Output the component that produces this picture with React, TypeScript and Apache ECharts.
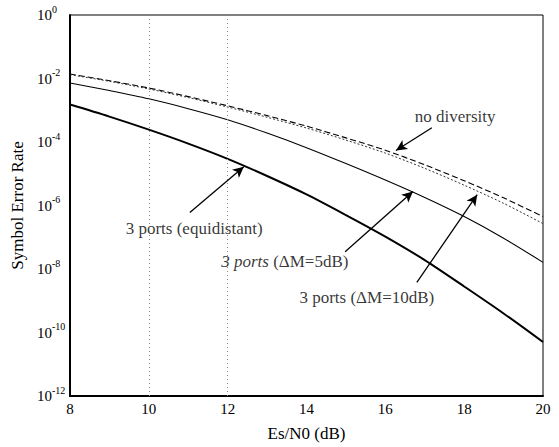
import React, { useEffect, useRef } from "react";
import * as echarts from "echarts";

// Es/N0 in dB
const esN0 = [8, 9, 10, 11, 12, 13, 14, 15, 16, 17, 18, 19, 20];

// Symbol error rate
const noDiversity = [1.38e-2, 8.51e-3, 5.01e-3, 2.69e-3, 1.38e-3, 6.76e-4, 3.16e-4, 1.35e-4, 5.5e-5, 1.91e-5, 6.03e-6, 1.74e-6, 4.47e-7];
const ports10dB = [1.32e-2, 8.13e-3, 4.68e-3, 2.51e-3, 1.26e-3, 6.03e-4, 2.75e-4, 1.15e-4, 4.47e-5, 1.48e-5, 4.37e-6, 1.17e-6, 2.69e-7];
const ports5dB = [7.24e-3, 4.17e-3, 2.29e-3, 1.12e-3, 5.01e-4, 1.91e-4, 6.61e-5, 2.09e-5, 6.31e-6, 1.78e-6, 4.47e-7, 9.33e-8, 1.62e-8];
const portsEquidistant = [1.51e-3, 6.31e-4, 2.45e-4, 8.91e-5, 2.95e-5, 8.51e-6, 2.24e-6, 5.01e-7, 1.05e-7, 1.91e-8, 2.82e-9, 3.98e-10, 5.01e-11];

// partial grid lines in the reference
const gridX = [10, 12];
const gridY = [1e-10];

// annotations: label text, label position, arrow start and arrow tip (data coordinates)
const annLabels = [
  "no diversity",
  "3 ports (equidistant)",
  "{i|3 ports} (ΔM=5dB)",
  "3 ports (ΔM=10dB)",
];
const annTextAt: [number, number][] = [
  [17.77, 6.3e-4],
  [11.15, 1.9e-7],
  [13.45, 1.74e-8],
  [15.53, 1.29e-9],
];
const annFrom: [number, number][] = [
  [17.18, 2.8e-4],
  [11.04, 6.0e-7],
  [14.98, 3.5e-8],
  [16.8, 3.8e-9],
];
const annTo: [number, number][] = [
  [16.27, 5.4e-5],
  [12.41, 1.66e-5],
  [16.7, 2.75e-6],
  [18.33, 2.2e-6],
];

const FONT = "Liberation Serif";

export default function App() {
  const ref = useRef<HTMLDivElement>(null);

  useEffect(() => {
    if (!ref.current) return;
    document.body.style.margin = "0";
    const chart = echarts.init(ref.current, undefined, { renderer: "svg" });

    const lineSeries = (name: string, data: number[], width: number, type: any, color: string) => ({
      name,
      type: "line",
      data: esN0.map((x, i) => [x, data[i]]),
      smooth: 0.3,
      showSymbol: false,
      symbol: "none",
      lineStyle: { color, width, type },
      silent: true,
    });

    const option: any = {
      animation: false,
      backgroundColor: "#fff",
      textStyle: { fontFamily: FONT },
      grid: {
        left: 70,
        right: 16,
        top: 15,
        bottom: 50,
        show: true,
        borderColor: "#000",
        borderWidth: 1,
        backgroundColor: "transparent",
      },
      xAxis: {
        type: "value",
        min: 8,
        max: 20,
        interval: 2,
        name: "Es/N0 (dB)",
        nameLocation: "middle",
        nameGap: 29,
        nameTextStyle: { fontFamily: FONT, fontSize: 17, color: "#000" },
        axisLine: { show: true, lineStyle: { color: "#000", width: 2 } },
        axisTick: { show: false },
        splitLine: { show: false },
        axisLabel: { fontFamily: FONT, fontSize: 15, color: "#000", margin: 5 },
      },
      yAxis: {
        type: "log",
        logBase: 10,
        min: 1e-12,
        max: 1,
        interval: 2,
        name: "Symbol Error Rate",
        nameLocation: "middle",
        nameGap: 44,
        nameTextStyle: { fontFamily: FONT, fontSize: 17, color: "#000" },
        axisLine: { show: true, lineStyle: { color: "#000", width: 2 } },
        axisTick: { show: false },
        splitLine: { show: false },
        axisLabel: {
          align: "left",
          margin: 33,
          formatter: (v: number) => {
            const e = Math.round(Math.log10(v));
            return `{b|10}{s|${e}}`;
          },
          rich: {
            b: { fontFamily: FONT, fontSize: 15, color: "#000" },
            s: { fontFamily: FONT, fontSize: 10, color: "#000", padding: [0, 0, 12, 0] },
          },
        },
      },
      series: [
        {
          ...lineSeries("no diversity", noDiversity, 1.1, [6, 3], "#000"),
          markLine: {
            silent: true,
            symbol: "none",
            label: { show: false },
            data: [
              ...gridX.map((x) => ({ xAxis: x, lineStyle: { color: "#888", width: 1, type: [1, 3] } })),
              ...gridY.map((y) => ({ yAxis: y, lineStyle: { color: "#777", width: 1, type: [7, 3, 1, 3] } })),
            ],
          },
        },
        lineSeries("3 ports (ΔM=10dB)", ports10dB, 1, [2, 2], "#333"),
        lineSeries("3 ports (ΔM=5dB)", ports5dB, 1.1, "solid", "#000"),
        lineSeries("3 ports (equidistant)", portsEquidistant, 2, "solid", "#000"),
        {
          name: "annotations",
          type: "scatter",
          silent: true,
          symbolSize: 0,
          data: annTextAt.map((p, i) => ({
            value: p,
            label: {
              show: true,
              position: "inside",
              formatter: annLabels[i],
              fontFamily: FONT,
              fontSize: 17,
              color: "#000",
              rich: {
                i: { fontFamily: FONT, fontSize: 17, fontStyle: "italic", color: "#000" },
              },
            },
          })),
          markLine: {
            silent: true,
            symbol: ["none", "arrow"],
            symbolSize: [8, 11],
            label: { show: false },
            lineStyle: { color: "#000", width: 1.3, type: "solid" },
            itemStyle: { color: "#000" },
            data: annFrom.map((f, i) => [{ coord: f }, { coord: annTo[i] }]),
          },
        },
      ],
    };

    chart.setOption(option);

    return () => chart.dispose();
  }, []);

  return <div ref={ref} style={{ width: 559, height: 447 }} />;
}
